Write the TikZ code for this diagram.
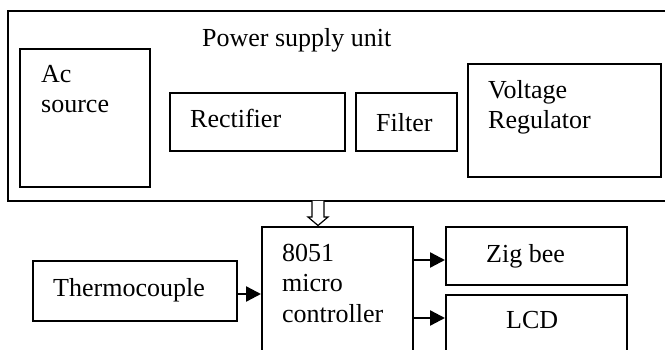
\documentclass[tikz,border=0pt]{standalone}
\usepackage{fontspec}
\setmainfont{Liberation Serif}
\usetikzlibrary{arrows.meta}
\begin{document}
\begin{tikzpicture}[x=1pt,y=-1pt,
  box/.style={draw=black,line width=1.6pt,rectangle,inner sep=0pt,anchor=north west},
  lbl/.style={inner sep=0pt,anchor=base west,align=left,font=\fontsize{26}{30}\selectfont},
  arr/.style={line width=2.4pt,-{Triangle[length=15pt,width=15pt]}}]
\useasboundingbox (0,0) rectangle (665,350);
\clip (0,0) rectangle (665,350);
% power supply
\node[box,minimum width=670pt,minimum height=190pt] (psu) at (7,10) {};
\node[lbl] (psut) at (202,47) {Power supply unit};
\node[box,minimum width=130pt,minimum height=138pt] (ac) at (19,48) {};
\node[lbl] (act) at (41,113) {Ac\\source};
\node[box,minimum width=175pt,minimum height=58pt] (rect) at (169,92) {};
\node[lbl] (rectt) at (190,128) {Rectifier};
\node[box,minimum width=101pt,minimum height=58pt] (filt) at (355,92) {};
\node[lbl] (filtt) at (376,132) {Filter};
\node[box,minimum width=193pt,minimum height=113pt] (vr) at (467,63) {};
\node[lbl] (vrt) at (488,129) {Voltage\\Regulator};
% lower part
\node[box,minimum width=204pt,minimum height=60pt] (tc) at (32,260) {};
\node[lbl] (tct) at (53,297) {Thermocouple};
\node[box,minimum width=151pt,minimum height=140pt] (mc) at (261,226) {};
\node[lbl,font=\fontsize{26}{31}\selectfont] (mct) at (282,323) {8051\\micro\\controller};
\node[box,minimum width=181pt,minimum height=58pt] (zig) at (445,226) {};
\node[lbl] (zigt) at (486,262) {Zig bee};
\node[box,minimum width=181pt,minimum height=70pt] (lcd) at (445,294) {};
\node[lbl] (lcdt) at (506,329) {LCD};
% hollow arrow from the power supply unit to the controller
\draw[line width=1.2pt,fill=white] (312,200.8) -- (312,217) -- (308,217) -- (318,225.5) -- (328,217) -- (324,217) -- (324,200.8);
% arrows
\draw[arr] (tc.east |- 0,294) -- (mc.west |- 0,294);
\draw[arr] (mc.east |- 0,260) -- (zig.west |- 0,260);
\draw[arr] (mc.east |- 0,318) -- (lcd.west |- 0,318);
\end{tikzpicture}
\end{document}
